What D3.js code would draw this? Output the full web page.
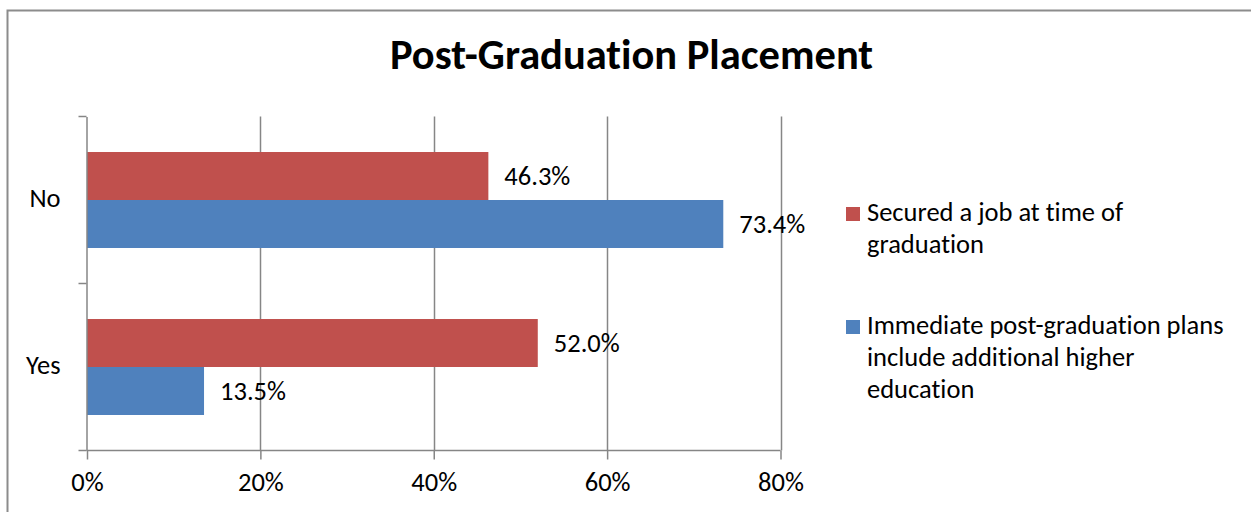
<!DOCTYPE html>
<html lang="en">

<head>
    <meta charset="UTF-8">
    <script src="https://d3js.org/d3.v7.min.js"></script>
    <style>
        body { margin: 0; background: #fff; }
        text { font-family: Carlito, Calibri, "Open Sans", sans-serif; fill: #000; font-variant-ligatures: none; }
    </style>
</head>

<body>
    <div class="chart"></div>
    <script>
        // data
        var categories = ["No", "Yes"]
        var seriesNames = ["Secured a job at time of graduation",
            "Immediate post-graduation plans include additional higher education"]
        var securedJob = [46.3, 52.0]
        var higherEd = [73.4, 13.5]
        var xTicks = [0, 20, 40, 60, 80]
        var colors = ["#C0504D", "#4F81BD"]
        var legendLines = [["Secured a job at time of", "graduation"],
            ["Immediate post-graduation plans", "include additional higher", "education"]]

        let width = 1251
        let height = 512
        let plot = { left: 87, right: 780.5, top: 116.5, bottom: 450.5 }
        let fontSize = "26.5px"

        var svg = d3.select(".chart").append("svg")
            .attr("width", width)
            .attr("height", height)

        // outer chart frame (runs off the right and bottom edges)
        svg.append("rect")
            .attr("x", 7.5).attr("y", 10.5)
            .attr("width", 1300).attr("height", 600)
            .attr("fill", "none")
            .attr("stroke", "#8c8c8c")
            .attr("stroke-width", 2)

        svg.append("text")
            .attr("x", 631.5).attr("y", 69)
            .attr("text-anchor", "middle")
            .style("font-size", "42.5px")
            .style("font-weight", "bold")
            .text("Post-Graduation Placement")

        var xScale = d3.scaleLinear()
            .domain([0, 80])
            .range([plot.left, plot.right])

        var yScale = d3.scaleBand()
            .domain(categories)
            .range([plot.top, plot.bottom])

        var ySub = d3.scaleBand()
            .domain([0, 1])
            .range([0, yScale.bandwidth()])
            .paddingOuter(0.74)

        // gridlines
        svg.append("g")
            .selectAll("line")
            .data(xTicks.slice(1))
            .enter().append("line")
            .attr("x1", d => Math.round(xScale(d)) + 0.5)
            .attr("x2", d => Math.round(xScale(d)) + 0.5)
            .attr("y1", plot.top)
            .attr("y2", plot.bottom)
            .attr("stroke", "#868686")
            .attr("stroke-width", 1.5)

        var rows = categories.map(function (c, i) {
            return { cat: c, values: [securedJob[i], higherEd[i]] }
        })

        var groups = svg.selectAll("g.cat")
            .data(rows)
            .enter().append("g")
            .attr("class", "cat")
            .attr("transform", d => "translate(0," + yScale(d.cat) + ")")

        groups.selectAll("rect")
            .data(d => d.values)
            .enter().append("rect")
            .attr("x", xScale(0))
            .attr("y", (d, i) => ySub(i))
            .attr("width", d => xScale(d) - xScale(0))
            .attr("height", ySub.bandwidth())
            .attr("fill", (d, i) => colors[i])

        groups.selectAll("text.val")
            .data(d => d.values)
            .enter().append("text")
            .attr("class", "val")
            .attr("x", d => xScale(d) + 16)
            .attr("y", (d, i) => ySub(i) + ySub.bandwidth() / 2 + 9)
            .style("font-size", fontSize)
            .text(d => d.toFixed(1) + "%")

        // axes
        var xAxis = svg.append("g")
            .attr("transform", "translate(0," + plot.bottom + ")")
            .call(d3.axisBottom(xScale).tickValues(xTicks).tickSize(9).tickPadding(13)
                .tickFormat(d => d + "%"))
        var yAxis = svg.append("g")
            .attr("transform", "translate(" + (plot.left - 0.5) + ",0)")
            .call(d3.axisLeft(yScale).tickSize(0).tickPadding(26))

        // category boundary ticks on the y axis
        yAxis.selectAll("line.bound")
            .data([plot.top, yScale("Yes"), plot.bottom])
            .enter().append("line")
            .attr("class", "bound")
            .attr("x1", -8).attr("x2", 0)
            .attr("y1", d => d).attr("y2", d => d)

        svg.selectAll(".domain, .tick line, line.bound")
            .attr("stroke", "#868686")
            .attr("stroke-width", 1.5)
        xAxis.select(".domain").attr("d", "M" + plot.left + ",0H" + plot.right)
        svg.selectAll(".tick text")
            .style("font-size", fontSize)
            .attr("fill", "#000")
        yAxis.selectAll(".tick text").attr("dy", "0.28em")

        // legend
        var legend = svg.append("g")
            .selectAll("g")
            .data(legendLines)
            .enter().append("g")
            .attr("transform", (d, i) => "translate(846," + (i === 0 ? 207 : 320) + ")")

        legend.append("rect")
            .attr("width", 14).attr("height", 14)
            .attr("fill", (d, i) => colors[i])

        legend.append("text")
            .attr("x", 21)
            .attr("y", 14)
            .style("font-size", fontSize)
            .selectAll("tspan")
            .data(d => d)
            .enter().append("tspan")
            .attr("x", 21)
            .attr("dy", (d, i) => i === 0 ? 0 : 31.8)
            .text(d => d)
    </script>
</body>

</html>
